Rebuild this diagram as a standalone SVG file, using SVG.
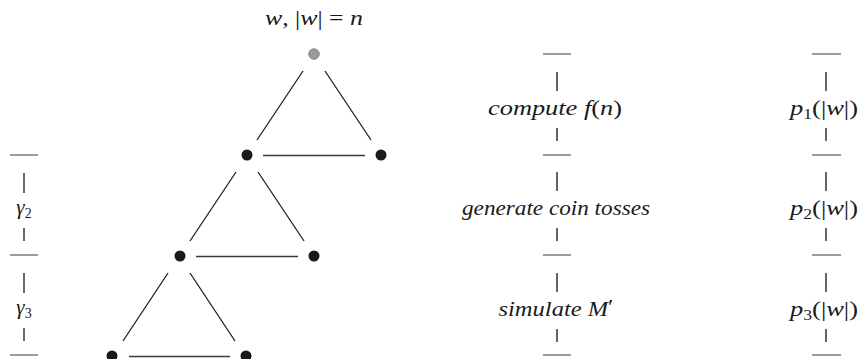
<svg xmlns="http://www.w3.org/2000/svg" width="860" height="359" viewBox="0 0 860 359">
<style>
text{font-family:"Liberation Serif","Times New Roman",serif;font-size:21px;font-style:italic;fill:#1a1a1a}
.up{font-style:normal}
.sub{font-style:normal;font-size:14px}
.edge{stroke:#1e1e1e;stroke-width:1.3;fill:none}
.base{stroke:#3a3a3a;stroke-width:1.6;fill:none}
.node{fill:#1a1a1a}
.root{fill:#9a9a9a;stroke:#777;stroke-width:0.8}
.rule{stroke:#5a5a5a;stroke-width:1.2}
.tick{stroke:#333;stroke-width:1.5}
</style>
<rect width="860" height="359" fill="#fff"/>
<g id="connectors">
<line class="edge" x1="303" y1="71" x2="257" y2="140"/>
<line class="edge" x1="325" y1="71" x2="371" y2="140"/>
<line class="base" x1="263" y1="155.5" x2="365" y2="155.5"/>
<line class="edge" x1="236" y1="172" x2="190" y2="241"/>
<line class="edge" x1="258" y1="172" x2="304" y2="241"/>
<line class="base" x1="196" y1="256.5" x2="298" y2="256.5"/>
<line class="edge" x1="168" y1="273" x2="123" y2="341"/>
<line class="edge" x1="190" y1="273" x2="235" y2="341"/>
<line class="base" x1="129" y1="356.5" x2="230" y2="356.5"/>
</g>
<g id="root">
<text x="314" y="25" text-anchor="middle" textLength="98" lengthAdjust="spacingAndGlyphs">w<tspan class="up">, |</tspan>w<tspan class="up">| = </tspan>n</text>
<circle class="root" cx="314" cy="54" r="5.3"/>
</g>
<g id="n1l"><circle class="node" cx="247" cy="155" r="5.5"/></g>
<g id="n1r"><circle class="node" cx="381" cy="155" r="5.5"/></g>
<g id="n2l"><circle class="node" cx="180" cy="256" r="5.5"/></g>
<g id="n2r"><circle class="node" cx="314" cy="256" r="5.5"/></g>
<g id="n3l"><circle class="node" cx="112" cy="356" r="5.5"/></g>
<g id="n3r"><circle class="node" cx="246" cy="356" r="5.5"/></g>
<g id="left-column">
<line class="rule" x1="10" y1="155" x2="38" y2="155"/>
<line class="tick" x1="24" y1="173" x2="24" y2="193"/>
<text x="24" y="214" text-anchor="middle">γ<tspan class="sub" dy="4">2</tspan></text>
<line class="tick" x1="24" y1="228" x2="24" y2="241"/>
<line class="rule" x1="10" y1="255" x2="38" y2="255"/>
<line class="tick" x1="24" y1="273" x2="24" y2="293"/>
<text x="24" y="314" text-anchor="middle">γ<tspan class="sub" dy="4">3</tspan></text>
<line class="tick" x1="24" y1="328" x2="24" y2="341"/>
<line class="rule" x1="10" y1="355" x2="38" y2="355"/>
</g>
<g id="middle-column">
<line class="rule" x1="543" y1="54" x2="571" y2="54"/>
<line class="tick" x1="557" y1="72" x2="557" y2="91"/>
<text x="555" y="115" text-anchor="middle" textLength="134" lengthAdjust="spacingAndGlyphs">compute f<tspan class="up">(</tspan>n<tspan class="up">)</tspan></text>
<line class="tick" x1="557" y1="128" x2="557" y2="141"/>
<line class="rule" x1="543" y1="155" x2="571" y2="155"/>
<line class="tick" x1="557" y1="172" x2="557" y2="191"/>
<text x="556" y="215" text-anchor="middle" textLength="188" lengthAdjust="spacingAndGlyphs">generate coin tosses</text>
<line class="tick" x1="557" y1="228" x2="557" y2="241"/>
<line class="rule" x1="543" y1="255" x2="571" y2="255"/>
<line class="tick" x1="557" y1="273" x2="557" y2="292"/>
<text x="556" y="316" text-anchor="middle" textLength="115" lengthAdjust="spacingAndGlyphs">simulate M<tspan class="up" dy="-2">′</tspan></text>
<line class="tick" x1="557" y1="329" x2="557" y2="342"/>
<line class="rule" x1="543" y1="355" x2="571" y2="355"/>
</g>
<g id="right-column">
<line class="rule" x1="812" y1="54" x2="841" y2="54"/>
<line class="tick" x1="826" y1="72" x2="826" y2="91"/>
<text x="824" y="115" text-anchor="middle" textLength="68" lengthAdjust="spacingAndGlyphs">p<tspan class="sub" dy="4">1</tspan><tspan class="up" dy="-4">(|</tspan>w<tspan class="up">|)</tspan></text>
<line class="tick" x1="826" y1="128" x2="826" y2="141"/>
<line class="rule" x1="812" y1="155" x2="841" y2="155"/>
<line class="tick" x1="826" y1="172" x2="826" y2="191"/>
<text x="824" y="215" text-anchor="middle" textLength="68" lengthAdjust="spacingAndGlyphs">p<tspan class="sub" dy="4">2</tspan><tspan class="up" dy="-4">(|</tspan>w<tspan class="up">|)</tspan></text>
<line class="tick" x1="826" y1="228" x2="826" y2="241"/>
<line class="rule" x1="812" y1="255" x2="841" y2="255"/>
<line class="tick" x1="826" y1="273" x2="826" y2="292"/>
<text x="824" y="316" text-anchor="middle" textLength="68" lengthAdjust="spacingAndGlyphs">p<tspan class="sub" dy="4">3</tspan><tspan class="up" dy="-4">(|</tspan>w<tspan class="up">|)</tspan></text>
<line class="tick" x1="826" y1="329" x2="826" y2="342"/>
<line class="rule" x1="812" y1="355" x2="841" y2="355"/>
</g>
</svg>
